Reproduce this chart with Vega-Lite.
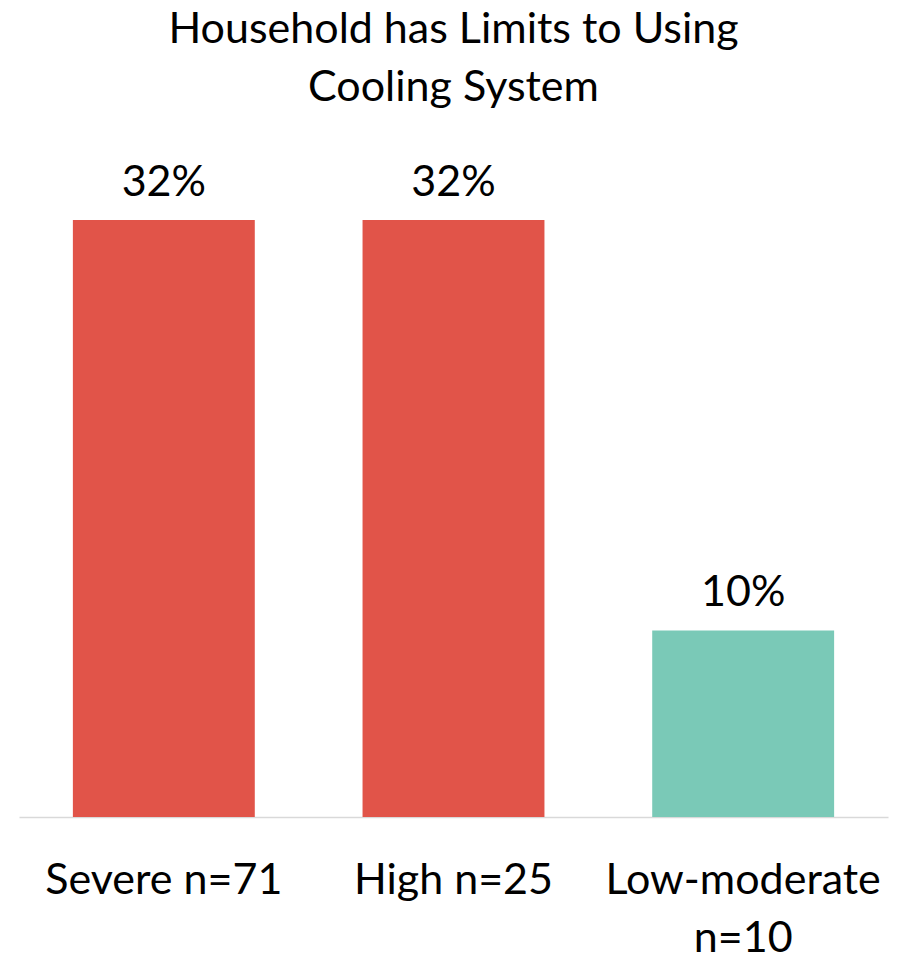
{
  "$schema": "https://vega.github.io/schema/vega-lite/v6.json",
  "autosize": "none",
  "padding": {"left": 19, "top": 115, "right": 12, "bottom": 138},
  "width": 869,
  "height": 702,
  "background": "white",
  "title": {
    "text": ["Household has Limits to Using", "Cooling System"],
    "font": "Lato",
    "fontSize": 43,
    "fontWeight": "normal",
    "color": "#000000",
    "lineHeight": 58,
    "anchor": "middle",
    "baseline": "alphabetic",
    "offset": -29
  },
  "data": {
    "values": [
      {"group": "Severe n=71", "value": 0.32, "label": "32%", "risk": "high"},
      {"group": "High n=25", "value": 0.32, "label": "32%", "risk": "high"},
      {"group": "Low-moderate n=10", "value": 0.10, "label": "10%", "risk": "low"}
    ]
  },
  "encoding": {
    "x": {
      "field": "group",
      "type": "nominal",
      "sort": null,
      "scale": {"paddingInner": 0.372, "paddingOuter": 0.186},
      "axis": {
        "title": null,
        "labelAngle": 0,
        "ticks": false,
        "domainColor": "#d9d9d9",
        "domainWidth": 1.5,
        "labelFont": "Lato",
        "labelFontSize": 43,
        "labelColor": "#000000",
        "labelBaseline": "alphabetic",
        "labelPadding": 76,
        "labelLineHeight": 58,
        "labelLimit": 0,
        "labelExpr": "datum.label == 'Low-moderate n=10' ? ['Low-moderate', 'n=10'] : datum.label"
      }
    },
    "y": {
      "field": "value",
      "type": "quantitative",
      "scale": {"domain": [0, 0.3763], "nice": false},
      "axis": null
    }
  },
  "layer": [
    {
      "mark": {"type": "bar"},
      "encoding": {
        "color": {
          "field": "risk",
          "type": "nominal",
          "scale": {"domain": ["high", "low"], "range": ["#E15449", "#7AC9B7"]},
          "legend": null
        }
      }
    },
    {
      "mark": {"type": "text", "font": "Lato", "fontSize": 43, "baseline": "alphabetic", "dy": -24, "color": "#000000"},
      "encoding": {"text": {"field": "label"}}
    }
  ],
  "config": {"view": {"stroke": null}}
}
